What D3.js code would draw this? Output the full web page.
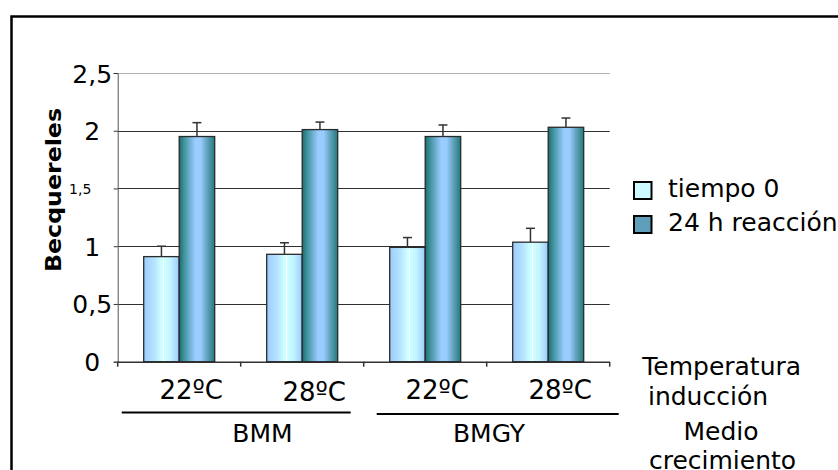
<!DOCTYPE html>
<html><head><meta charset="utf-8">
<script src="https://cdn.jsdelivr.net/npm/d3@7"></script>
<style>body{margin:0;background:#fff;}svg{display:block;}text{font-family:"DejaVu Sans",Verdana,sans-serif;fill:#000;}</style>
</head><body>
<svg id="c" width="838" height="470"></svg>
<script>
const categories = ["22ºC","28ºC","22ºC","28ºC"];
const media = ["BMM","BMM","BMGY","BMGY"];
const seriesNames = ["tiempo 0","24 h reacción"];
const tiempo0 = [0.91, 0.93, 0.99, 1.035];
const tiempo0Err = [0.09, 0.10, 0.085, 0.12];
const reaccion24 = [1.95, 2.01, 1.95, 2.03];
const reaccion24Err = [0.12, 0.065, 0.10, 0.08];
const yTicks = [0, 0.5, 1, 1.5, 2, 2.5];
const yTickLabels = ["0","0,5","1","1,5","2","2,5"];

const svg = d3.select("#c");
const defs = svg.append("defs");
const g1 = defs.append("linearGradient").attr("id","gLight").attr("x1","0").attr("x2","1").attr("y1","0").attr("y2","0");
[[0,"#9ccbff"],[0.3,"#b6e4ff"],[0.5,"#ccffff"],[0.54,"#ccffff"],[0.55,"#ffffff"],[0.57,"#ffffff"],[0.58,"#ccffff"],[0.75,"#c4f4ff"],[1,"#99ccff"]]
 .forEach(s=>g1.append("stop").attr("offset",s[0]).attr("stop-color",s[1]));
const g2 = defs.append("linearGradient").attr("id","gDark").attr("x1","0").attr("x2","1").attr("y1","0").attr("y2","0");
[[0,"#1d6b70"],[0.12,"#3a8e96"],[0.3,"#6fb0d0"],[0.45,"#99ccff"],[0.6,"#99ccff"],[0.8,"#5fa0b8"],[1,"#217a7c"]]
 .forEach(s=>g2.append("stop").attr("offset",s[0]).attr("stop-color",s[1]));

// frame
svg.append("rect").attr("x",11.5).attr("y",16.5).attr("width",900).attr("height",600)
  .attr("fill","none").attr("stroke","#000").attr("stroke-width",2.5);

const x = d3.scaleBand().domain(d3.range(categories.length)).range([117.7, 609.7]).padding(0);
const y = d3.scaleLinear().domain([0, 2.5]).range([361.7, 73]);
const bw = 35.5;

// gridlines
svg.append("g").selectAll("line").data(yTicks.filter(d=>d>0)).join("line")
  .attr("x1",x.range()[0]).attr("x2",x.range()[1])
  .attr("y1",d=>Math.round(y(d))+0.5).attr("y2",d=>Math.round(y(d))+0.5)
  .attr("stroke",d=>d===2.5?"#b0b0b0":"#303030").attr("stroke-width",1);

// y axis
const yAxis = d3.axisLeft(y).tickValues(yTicks).tickSize(4).tickFormat((d,i)=>yTickLabels[i]);
const ya = svg.append("g").attr("transform",`translate(${x.range()[0]},0)`).call(yAxis);
ya.select(".domain").attr("stroke","#555");
ya.selectAll(".tick line").attr("stroke","#333");
ya.selectAll(".tick text").attr("font-family","DejaVu Sans").attr("fill","#000")
  .attr("text-anchor","middle").attr("x",d=>d===1.5?-37.5:-25.5).attr("dy","0.36em")
  .attr("font-size",d=>d===1.5?14:25);

// x axis
const xa = svg.append("g").attr("transform",`translate(0,${y(0)})`);
xa.append("line").attr("x1",x.range()[0]).attr("x2",x.range()[1]).attr("y1",0.5).attr("y2",0.5).attr("stroke","#333").attr("stroke-width",1.5);
xa.selectAll("line.t").data(d3.range(categories.length+1)).join("line").attr("class","t")
  .attr("x1",i=>i<categories.length?x(i):x.range()[1]).attr("x2",i=>i<categories.length?x(i):x.range()[1])
  .attr("y1",0).attr("y2",5).attr("stroke","#333").attr("stroke-width",1.5);

// bars
const groups = svg.append("g").selectAll("g").data(categories).join("g")
  .attr("transform",(d,i)=>`translate(${x(i)+x.bandwidth()/2},0)`);
const sets = [[tiempo0,tiempo0Err,"url(#gLight)",-bw],[reaccion24,reaccion24Err,"url(#gDark)",0]];
sets.forEach(([vals,errs,fill,off])=>{
  groups.append("rect").attr("x",off).attr("width",bw)
    .attr("y",(d,i)=>y(vals[i])).attr("height",(d,i)=>y(0)-y(vals[i]))
    .attr("fill",fill).attr("stroke","#2a2a2a").attr("stroke-width",1.3);
  groups.append("line").attr("x1",off+bw/2).attr("x2",off+bw/2)
    .attr("y1",(d,i)=>y(vals[i])).attr("y2",(d,i)=>y(vals[i]+errs[i]))
    .attr("stroke","#333").attr("stroke-width",1.5);
  groups.append("line").attr("x1",off+bw/2-4.5).attr("x2",off+bw/2+4.5)
    .attr("y1",(d,i)=>y(vals[i]+errs[i])).attr("y2",(d,i)=>y(vals[i]+errs[i]))
    .attr("stroke","#333").attr("stroke-width",1.5);
});

// category labels
svg.append("g").selectAll("text").data(categories).join("text")
  .attr("x",(d,i)=>x(i)+x.bandwidth()/2+12).attr("y",(d,i)=>i===1?401:398.5)
  .attr("text-anchor","middle").attr("font-size",26).text(d=>d);

// media group lines and labels
const mediaNames = Array.from(new Set(media));
mediaNames.forEach((m,k)=>{
  const idx = d3.range(media.length).filter(i=>media[i]===m);
  const x0 = x(idx[0]) + (k===0?4:13);
  const x1 = x(idx[idx.length-1]) + x.bandwidth() + (k===0?-13:9);
  const ly = k===0?412.5:414;
  svg.append("line").attr("x1",x0).attr("x2",x1).attr("y1",ly).attr("y2",ly).attr("stroke","#000").attr("stroke-width",2.2);
  svg.append("text").attr("x",k===0?262.5:489).attr("y",442).attr("text-anchor","middle").attr("font-size",25).text(m);
});

// axis titles
svg.append("text").attr("transform","translate(61,190) rotate(-90)").attr("text-anchor","middle")
  .attr("font-size",21).attr("font-weight","bold").attr("textLength",164).attr("lengthAdjust","spacingAndGlyphs").text("Becquereles");
svg.append("text").attr("x",721.7).attr("y",375).attr("text-anchor","middle").attr("font-size",25).text("Temperatura");
svg.append("text").attr("x",708).attr("y",405).attr("text-anchor","middle").attr("font-size",25).text("inducción");
svg.append("text").attr("x",721).attr("y",440).attr("text-anchor","middle").attr("font-size",25).text("Medio");
svg.append("text").attr("x",722.5).attr("y",469).attr("text-anchor","middle").attr("font-size",25).text("crecimiento");

// legend
const legFill = ["#ccf8ff","#5f9fba"];
seriesNames.forEach((s,i)=>{
  const ly = 182 + i*34;
  svg.append("rect").attr("x",634).attr("y",ly).attr("width",17.5).attr("height",17)
    .attr("fill",legFill[i]).attr("stroke","#000").attr("stroke-width",2);
  svg.append("text").attr("x",668).attr("y",ly+14.5).attr("font-size",25).text(s);
});
</script>
</body></html>
